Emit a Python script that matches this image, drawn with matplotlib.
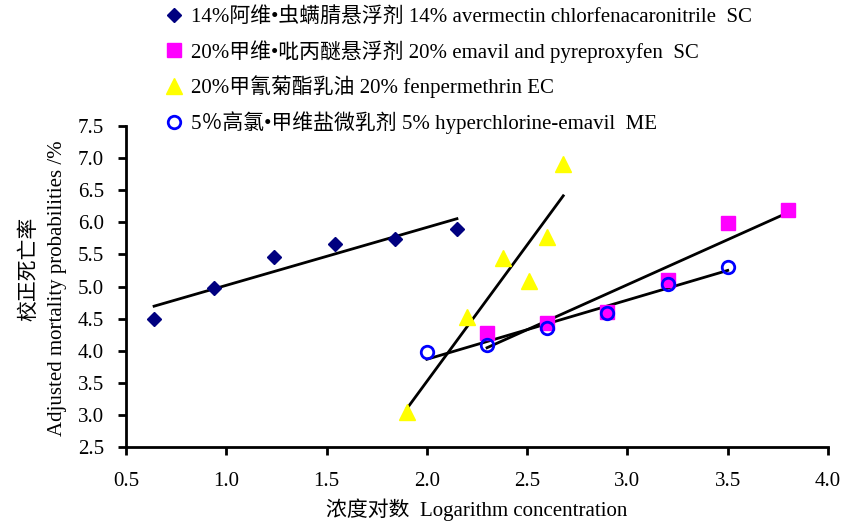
import numpy as np
import matplotlib
matplotlib.use("Agg")
import matplotlib.pyplot as plt

FAM = ['Liberation Serif', 'Noto Sans CJK SC']
plt.rcParams['font.family'] = FAM

# data
x_avm = [0.64, 0.94, 1.24, 1.54, 1.84, 2.15]
y_avm = [4.49, 4.98, 5.46, 5.66, 5.74, 5.90]
x_ema = [2.3, 2.6, 2.9, 3.2, 3.5, 3.8]
y_ema = [4.28, 4.43, 4.60, 5.10, 5.99, 6.19]
x_fen = [1.9, 2.2, 2.38, 2.51, 2.6, 2.68]
y_fen = [3.05, 4.52, 5.44, 5.09, 5.77, 6.91]
x_hyp = [2.0, 2.3, 2.6, 2.9, 3.2, 3.5]
y_hyp = [3.98, 4.09, 4.35, 4.59, 5.04, 5.30]

labels = [
    "14%阿维•虫螨腈悬浮剂 14% avermectin chlorfenacaronitrile  SC",
    "20%甲维•吡丙醚悬浮剂 20% emavil and pyreproxyfen  SC",
    "20%甲氰菊酯乳油 20% fenpermethrin EC",
    "5％高氯•甲维盐微乳剂 5% hyperchlorine-emavil  ME",
]
xticks = [0.5, 1.0, 1.5, 2.0, 2.5, 3.0, 3.5, 4.0]
yticks = [2.5, 3.0, 3.5, 4.0, 4.5, 5.0, 5.5, 6.0, 6.5, 7.0, 7.5]

fig = plt.figure(figsize=(8.42, 5.24), dpi=100)
ax = fig.add_axes([126/842, 1-447/524, (828-126)/842, (447-126)/524])

series = [
    (x_avm, y_avm, dict(marker='D', color='#000080', markersize=7, linestyle='none')),
    (x_ema, y_ema, dict(marker='s', color='#FF00FF', markersize=10, linestyle='none')),
    (x_fen, y_fen, dict(marker='^', color='#FFFF00', markersize=11, linestyle='none')),
    (x_hyp, y_hyp, dict(marker='o', markerfacecolor='none', markeredgecolor='#0000FF',
                        markeredgewidth=2, markersize=9, linestyle='none')),
]
handles = []
for (xs, ys, st), lab in zip(series, labels):
    h, = ax.plot(xs, ys, label=lab, zorder=3, clip_on=False, **st)
    handles.append(h)
    k, b = np.polyfit(xs, ys, 1)
    xx = np.array([min(xs), max(xs)])
    ax.plot(xx, k*xx + b, color='black', lw=2, zorder=2)

ax.set_xlim(0.5, 4.0)
ax.set_ylim(2.5, 7.5)
ax.set_xticks(xticks)
ax.set_yticks(yticks)
ax.set_xticklabels([f"{v:.1f}" for v in xticks])
ax.set_yticklabels([f"{v:.1f}" for v in yticks])
for s in ['top', 'right']:
    ax.spines[s].set_visible(False)
for s in ['left', 'bottom']:
    ax.spines[s].set_linewidth(2)
ax.tick_params(direction='out', length=6, width=2, labelsize=15)
ax.tick_params(axis='y', pad=10)
ax.tick_params(axis='x', pad=12)

ax.set_xlabel("浓度对数  Logarithm concentration", fontsize=15, labelpad=5)
fig.text(58/842, 1-288/524, "Adjusted mortality probabilities /%", rotation=90,
         ha='center', va='center', fontsize=15)
fig.text(30/842, 1-269/524, "校正死亡率", rotation=90, ha='center', va='center', fontsize=15)

leg = ax.legend(handles=handles, loc='upper left', bbox_to_anchor=(161/842, 1 - 3/524),
                bbox_transform=fig.transFigure, frameon=False, fontsize=15,
                handlelength=0.8, handletextpad=0.45, labelspacing=0.62,
                borderpad=0.2, borderaxespad=0)

fig.savefig("out.png", dpi=100)
